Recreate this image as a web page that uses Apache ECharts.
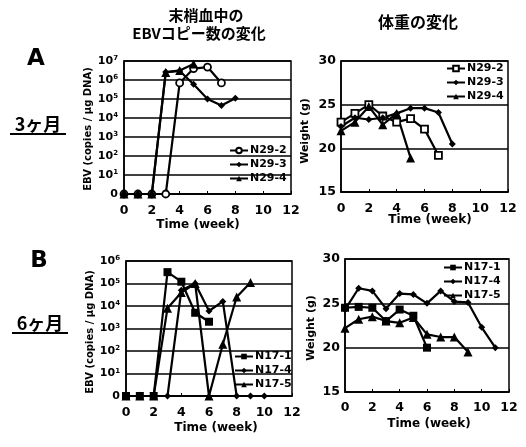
<!DOCTYPE html>
<html>
<head>
<meta charset="utf-8">
<script src="https://cdn.jsdelivr.net/npm/echarts@6/dist/echarts.min.js"></script>
<style>
  html, body { margin: 0; padding: 0; background: #fff; }
  #chart { width: 526px; height: 447px; }
</style>
</head>
<body>
<div id="chart"></div>
<script>
// Time axis (weeks) shared by every panel
const weekTicks = [0, 2, 4, 6, 8, 10, 12];

// A (3 months): EBV copies / ug DNA, weekly from week 0
const namesA = ['N29-2', 'N29-3', 'N29-4'];
const ebvA_N29_2 = [0, 0, 0, 0, 7e5, 4e6, 4.8e6, 7e5];
const ebvA_N29_3 = [0, 0, 0, 2.6e6, 3e6, 6e5, 1e5, 4.5e4, 1.1e5];
const ebvA_N29_4 = [0, 0, 0, 2.5e6, 3.2e6, 7e6];

// A (3 months): body weight (g)
const wtA_N29_2 = [23.0, 24.0, 25.0, 23.7, 23.0, 23.4, 22.2, 19.2];
const wtA_N29_3 = [22.5, 23.5, 23.3, 23.5, 24.0, 24.6, 24.6, 24.1, 20.5];
const wtA_N29_4 = [22.0, 23.0, 24.8, 22.7, 24.0, 18.9];

// B (6 months): EBV copies / ug DNA
const namesB = ['N17-1', 'N17-4', 'N17-5'];
const ebvB_N17_1 = [0, 0, 0, 3.2e5, 1.2e5, 5e3, 2e3];
const ebvB_N17_4 = [0, 0, 0, 0, 5e4, 1e5, 6e3, 1.6e4, 0, 0, 0];
const ebvB_N17_5 = [0, 0, 0, 8e3, 4e4, 1e5, 0, 2e2, 2.5e4, 1.1e5];

// B (6 months): body weight (g)
const wtB_N17_1 = [24.5, 24.6, 24.5, 23.0, 24.3, 23.6, 20.0];
const wtB_N17_4 = [24.3, 26.7, 26.4, 24.4, 26.1, 26.0, 25.0, 26.4, 25.2, 25.1, 22.3, 20.0];
const wtB_N17_5 = [22.2, 23.2, 23.5, 23.0, 22.8, 23.4, 21.5, 21.2, 21.2, 19.5];

// Weight axis ticks
const weightTicks = [15, 20, 25, 30];

const FONT = '"DejaVu Sans", sans-serif';
const JP = '"Noto Sans CJK JP", sans-serif';
const BLACK = '#000';

// log axis cannot show 0: undetected samples sit on the bottom ("0") line
const ebvPoints = arr => arr.map((v, i) => [i, v === 0 ? 1 : v]);
const wtPoints = arr => arr.map((v, i) => [i, v]);

const markerStyles = {
  openCircle: { symbol: 'circle', symbolSize: 7, itemStyle: { color: '#fff', borderColor: BLACK, borderWidth: 1.8 } },
  openSquare: { symbol: 'rect', symbolSize: 7, itemStyle: { color: '#fff', borderColor: BLACK, borderWidth: 1.8 } },
  square: { symbol: 'rect', symbolSize: 8, itemStyle: { color: BLACK } },
  diamond: { symbol: 'diamond', symbolSize: 7, itemStyle: { color: BLACK } },
  triangle: { symbol: 'triangle', symbolSize: 9, itemStyle: { color: BLACK } }
};

function lineSeries(name, tag, data, grid, marker) {
  return Object.assign({
    type: 'line',
    name: name + ' ' + tag,
    xAxisIndex: grid,
    yAxisIndex: grid,
    data: data,
    lineStyle: { color: BLACK, width: 2.2 },
    showAllSymbol: true,
    animation: false,
    z: 3
  }, markerStyles[marker]);
}

function xAxis(grid, margin) {
  return {
    type: 'value', gridIndex: grid, min: weekTicks[0], max: weekTicks[weekTicks.length - 1], interval: 2,
    axisLine: { show: true, lineStyle: { color: BLACK, width: 1.5 } },
    axisTick: { show: true, inside: true, length: 3, lineStyle: { color: BLACK, width: 1 } },
    axisLabel: { color: BLACK, fontFamily: FONT, fontWeight: 'bold', fontSize: 12.5, margin: margin },
    splitLine: { show: false }
  };
}

const supRich = {
  b: { color: BLACK, fontFamily: FONT, fontWeight: 'bold', fontSize: 11 },
  s: { color: BLACK, fontFamily: FONT, fontWeight: 'bold', fontSize: 7, verticalAlign: 'top', padding: [0, 0, 5, 0] }
};

function ebvAxis(grid, maxVal) {
  return {
    type: 'log', logBase: 10, gridIndex: grid, min: 1, max: maxVal, interval: 1,
    axisLine: { show: true, lineStyle: { color: BLACK, width: 1.5 } },
    axisTick: { show: false },
    splitLine: { show: true, lineStyle: { color: BLACK, width: 1.5 } },
    axisLabel: {
      margin: 6,
      formatter: v => {
        if (v <= 1) return '{b|0}';
        return '{b|10}{s|' + Math.round(Math.log10(v)) + '}';
      },
      rich: supRich
    }
  };
}

function weightAxis(grid) {
  return {
    type: 'value', gridIndex: grid, min: weightTicks[0], max: weightTicks[weightTicks.length - 1], interval: 5,
    axisLine: { show: true, lineStyle: { color: BLACK, width: 1.5 } },
    axisTick: { show: false },
    splitLine: { show: true, lineStyle: { color: BLACK, width: 1.5 } },
    axisLabel: { color: BLACK, fontFamily: FONT, fontWeight: 'bold', fontSize: 12.5, margin: 5 }
  };
}

function legend(names, tag, left, top) {
  return {
    orient: 'vertical', left: left, top: top,
    data: names.map(n => n + ' ' + tag),
    formatter: n => n.split(' ')[0],
    itemWidth: 18, itemHeight: 7, itemGap: 3,
    padding: 0,
    selectedMode: false,
    textStyle: { color: BLACK, fontFamily: FONT, fontWeight: 'bold', fontSize: 11, padding: [0, 0, 0, -3] }
  };
}

function txt(text, x, y, size, opts) {
  return Object.assign({
    type: 'text', x: x, y: y, z: 10,
    style: {
      text: text, fill: BLACK, align: 'center', verticalAlign: 'middle',
      font: 'bold ' + size + 'px ' + FONT
    }
  }, opts || {});
}

function jp(text, x, y, size) {
  return {
    type: 'text', x: x, y: y, z: 10,
    style: { text: text, fill: BLACK, align: 'center', verticalAlign: 'middle', font: 'bold ' + size + 'px ' + JP }
  };
}

function underline(x1, x2, y) {
  return { type: 'line', shape: { x1: x1, y1: y, x2: x2, y2: y }, style: { stroke: BLACK, lineWidth: 2 } };
}

const option = {
  backgroundColor: '#fff',
  animation: false,
  grid: [
    { left: 124, top: 61, width: 167, height: 133, show: true, borderColor: BLACK, borderWidth: 1.5, backgroundColor: 'transparent' },
    { left: 341, top: 61, width: 167, height: 131, show: true, borderColor: BLACK, borderWidth: 1.5, backgroundColor: 'transparent' },
    { left: 126, top: 261, width: 166, height: 135, show: true, borderColor: BLACK, borderWidth: 1.5, backgroundColor: 'transparent' },
    { left: 345, top: 259, width: 164, height: 133, show: true, borderColor: BLACK, borderWidth: 1.5, backgroundColor: 'transparent' }
  ],
  xAxis: [xAxis(0, 10), xAxis(1, 10), xAxis(2, 10), xAxis(3, 9)],
  yAxis: [ebvAxis(0, 1e7), weightAxis(1), ebvAxis(2, 1e6), weightAxis(3)],
  legend: [
    legend(namesA, 'ebv', 229, 145),
    legend(namesA, 'wt', 446, 63),
    legend(namesB, 'ebv', 234, 351),
    legend(namesB, 'wt', 443, 262)
  ],
  series: [
    lineSeries('N29-2', 'ebv', ebvPoints(ebvA_N29_2), 0, 'openCircle'),
    lineSeries('N29-3', 'ebv', ebvPoints(ebvA_N29_3), 0, 'diamond'),
    lineSeries('N29-4', 'ebv', ebvPoints(ebvA_N29_4), 0, 'triangle'),

    lineSeries('N29-2', 'wt', wtPoints(wtA_N29_2), 1, 'openSquare'),
    lineSeries('N29-3', 'wt', wtPoints(wtA_N29_3), 1, 'diamond'),
    lineSeries('N29-4', 'wt', wtPoints(wtA_N29_4), 1, 'triangle'),

    lineSeries('N17-1', 'ebv', ebvPoints(ebvB_N17_1), 2, 'square'),
    lineSeries('N17-4', 'ebv', ebvPoints(ebvB_N17_4), 2, 'diamond'),
    lineSeries('N17-5', 'ebv', ebvPoints(ebvB_N17_5), 2, 'triangle'),

    lineSeries('N17-1', 'wt', wtPoints(wtB_N17_1), 3, 'square'),
    lineSeries('N17-4', 'wt', wtPoints(wtB_N17_4), 3, 'diamond'),
    lineSeries('N17-5', 'wt', wtPoints(wtB_N17_5), 3, 'triangle')
  ],
  graphic: [
    // column headings
    jp('末梢血中の', 206, 15, 15),
    jp('EBVコピー数の変化', 199, 33, 15),
    jp('体重の変化', 418, 22, 16),

    // row labels
    txt('A', 36, 59, 23),
    jp('3ヶ月', 38, 124, 18),
    underline(10, 66, 134),
    txt('B', 39, 261, 23),
    jp('6ヶ月', 40, 323, 18),
    underline(12, 68, 333),

    // axis titles
    txt('EBV (copies / μg DNA)', 88, 129, 10, { rotation: Math.PI / 2 }),
    txt('Weight (g)', 305, 131, 11, { rotation: Math.PI / 2 }),
    txt('EBV (copies / μg DNA)', 90, 332, 10, { rotation: Math.PI / 2 }),
    txt('Weight (g)', 311, 328, 11, { rotation: Math.PI / 2 }),
    txt('Time (week)', 198, 225, 12),
    txt('Time (week)', 430, 220, 12),
    txt('Time (week)', 216, 428, 12),
    txt('Time (week)', 429, 424, 12)
  ]
};

const chart = echarts.init(document.getElementById('chart'), null, { renderer: 'canvas' });
chart.setOption(option);
</script>
</body>
</html>
